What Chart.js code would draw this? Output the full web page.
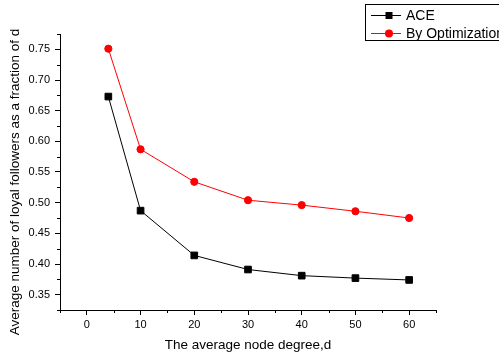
<!DOCTYPE html>
<html>
<head>
<meta charset="utf-8">
<script src="https://cdn.jsdelivr.net/npm/chart.js@4.4.1/dist/chart.umd.min.js"></script>
<style>
  html, body { margin: 0; padding: 0; background: #fff; }
  canvas { display: block; }
</style>
</head>
<body>
<canvas id="chart" width="499" height="356"></canvas>
<script>
// Average node degree (x) and loyal-follower fractions for each method
const degrees = [4, 10, 20, 30, 40, 50, 60];
const aceValues = [0.673, 0.487, 0.414, 0.391, 0.381, 0.377, 0.374];
const optimizationValues = [0.751, 0.587, 0.534, 0.504, 0.496, 0.486, 0.475];

const seriesNames = ['ACE', 'By Optimization'];

const xTickValues = [0, 10, 20, 30, 40, 50, 60];
const xMinorTickValues = [-5, 5, 15, 25, 35, 45, 55, 65];
const yTickValues = [0.35, 0.40, 0.45, 0.50, 0.55, 0.60, 0.65, 0.70, 0.75];
const yMinorTickValues = [0.325, 0.375, 0.425, 0.475, 0.525, 0.575, 0.625, 0.675, 0.725, 0.775];

const xTitle = 'The average node degree,d';
const yTitle = 'Average number of loyal followers as a fraction of d';

const FONT = '"Liberation Sans", Arial, Helvetica, sans-serif';
Chart.defaults.font.family = FONT;
Chart.defaults.color = '#000';

const toPoints = (xs, ys) => xs.map((x, i) => ({ x, y: ys[i] }));

// Short outward tick marks between the labelled ones
const minorTicks = {
  id: 'minorTicks',
  afterDraw(chart) {
    const { ctx, scales: { x, y } } = chart;
    ctx.save();
    ctx.strokeStyle = '#000';
    ctx.lineWidth = 1;
    ctx.beginPath();
    xMinorTickValues.forEach(v => {
      const px = Math.round(x.getPixelForValue(v)) + 0.5;
      ctx.moveTo(px, x.top);
      ctx.lineTo(px, x.top + 3);
    });
    yMinorTickValues.forEach(v => {
      const py = Math.round(y.getPixelForValue(v)) + 0.5;
      ctx.moveTo(y.right, py);
      ctx.lineTo(y.right - 3, py);
    });
    ctx.stroke();
    ctx.restore();
  }
};

// Axis titles
const axisTitles = {
  id: 'axisTitles',
  afterDraw(chart) {
    const { ctx, chartArea } = chart;
    ctx.save();
    ctx.fillStyle = '#000';
    ctx.font = '13.5px ' + FONT;
    ctx.textAlign = 'center';
    ctx.textBaseline = 'middle';
    ctx.fillText(xTitle, (chartArea.left + chartArea.right) / 2, 345);
    ctx.translate(15, 182);
    ctx.rotate(-Math.PI / 2);
    ctx.fillText(yTitle, 0, 0);
    ctx.restore();
  }
};

// Boxed legend in the top-right corner
const boxedLegend = {
  id: 'boxedLegend',
  afterDraw(chart) {
    const { ctx } = chart;
    ctx.save();
    ctx.strokeStyle = '#000';
    ctx.lineWidth = 1;
    ctx.strokeRect(365.5, 4.5, 200, 36);
    const rows = [15, 33];
    chart.data.datasets.forEach((ds, i) => {
      const y = rows[i];
      ctx.strokeStyle = ds.borderColor;
      ctx.lineWidth = 1;
      ctx.beginPath();
      ctx.moveTo(371, y + 0.5);
      ctx.lineTo(401, y + 0.5);
      ctx.stroke();
      ctx.fillStyle = ds.backgroundColor;
      if (ds.pointStyle === 'rect') {
        ctx.fillRect(385.5, y - 3, 7, 7);
      } else {
        ctx.beginPath();
        ctx.arc(389, y + 0.5, 4, 0, Math.PI * 2);
        ctx.fill();
      }
      ctx.fillStyle = '#000';
      ctx.font = '14px ' + FONT;
      ctx.textAlign = 'left';
      ctx.textBaseline = 'middle';
      ctx.fillText(ds.label, 406, y + 1);
    });
    ctx.restore();
  }
};

const axisStyle = {
  border: { display: true, color: '#000', width: 1 },
  grid: { display: true, drawOnChartArea: false, drawTicks: true, tickLength: 5, tickColor: '#000', tickWidth: 1 }
};

new Chart(document.getElementById('chart'), {
  type: 'scatter',
  data: {
    datasets: [
      {
        label: seriesNames[0],
        data: toPoints(degrees, aceValues),
        showLine: true,
        borderColor: '#000',
        backgroundColor: '#000',
        borderWidth: 1,
        pointStyle: 'rect',
        pointRadius: 4.7,
        pointBorderWidth: 1,
        pointBorderColor: '#000',
        pointBackgroundColor: '#000'
      },
      {
        label: seriesNames[1],
        data: toPoints(degrees, optimizationValues),
        showLine: true,
        borderColor: '#ff0000',
        backgroundColor: '#ff0000',
        borderWidth: 1,
        pointStyle: 'circle',
        pointRadius: 3.6,
        pointBorderWidth: 1,
        pointBorderColor: '#ff0000',
        pointBackgroundColor: '#ff0000'
      }
    ]
  },
  options: {
    responsive: false,
    animation: false,
    layout: { padding: { left: 0, top: 34, right: 63, bottom: 0 } },
    plugins: {
      legend: { display: false },
      tooltip: { enabled: false }
    },
    scales: {
      x: {
        type: 'linear',
        min: -5,
        max: 65,
        ...axisStyle,
        afterBuildTicks: scale => { scale.ticks = xTickValues.map(value => ({ value })); },
        afterFit: scale => { scale.height = 46; },
        ticks: { font: { size: 11 }, color: '#000', padding: 3, maxRotation: 0 }
      },
      y: {
        type: 'linear',
        min: 0.325,
        max: 0.775,
        ...axisStyle,
        afterBuildTicks: scale => { scale.ticks = yTickValues.map(value => ({ value })); },
        afterFit: scale => { scale.width = 60; },
        ticks: { font: { size: 11 }, color: '#000', padding: 5, callback: v => v.toFixed(2) }
      }
    }
  },
  plugins: [minorTicks, axisTitles, boxedLegend]
});
</script>
</body>
</html>
